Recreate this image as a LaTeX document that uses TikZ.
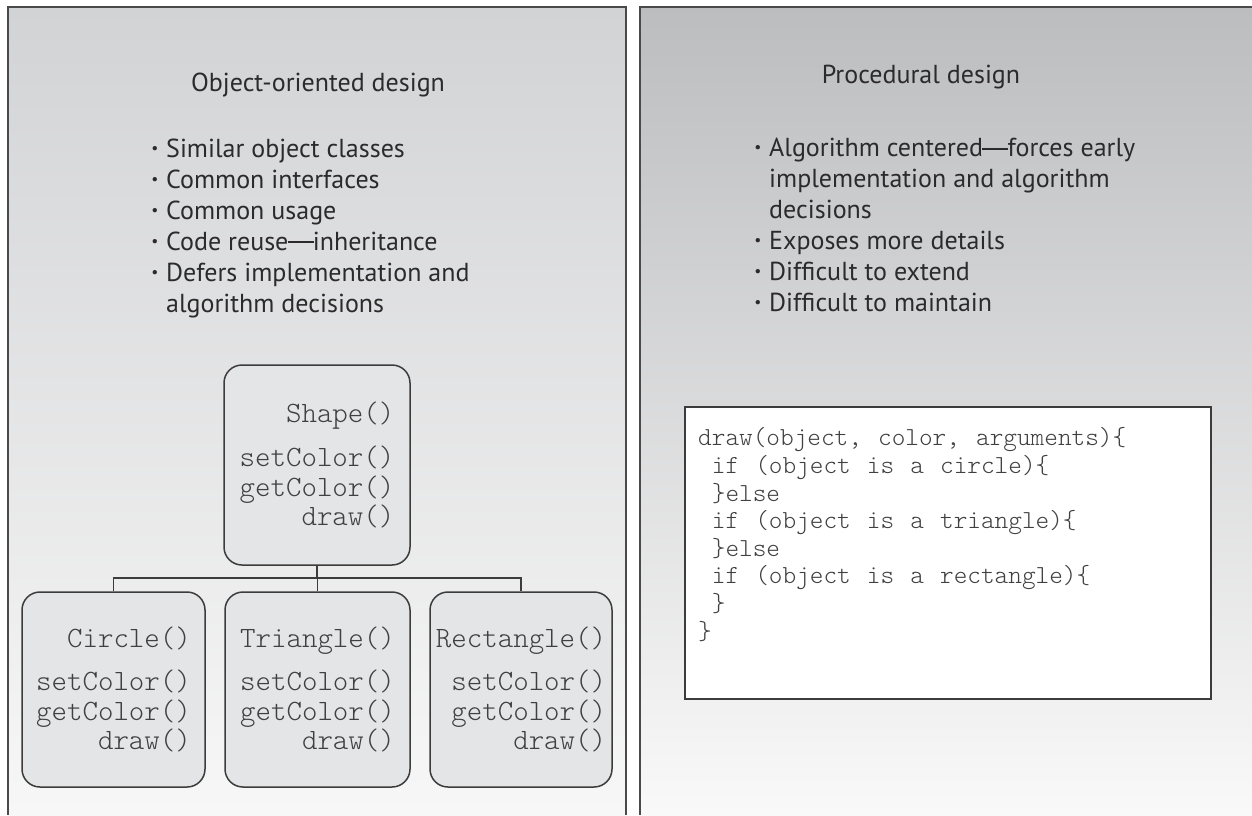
\documentclass[tikz,border=0pt]{standalone}
\usepackage{fontspec}
\setmainfont{PT Sans}

\definecolor{panelline}{HTML}{4A4A4A}
\definecolor{lefttop}{HTML}{D2D3D5}
\definecolor{leftbot}{HTML}{F7F7F7}
\definecolor{righttop}{HTML}{BCBDBF}
\definecolor{rightbot}{HTML}{F9F9F9}
\definecolor{boxline}{HTML}{3C3C3C}
\definecolor{boxfill}{HTML}{E4E5E6}
\definecolor{txtdark}{HTML}{2B2B2B}
\definecolor{codegray}{HTML}{404040}

\newcommand\bul{\llap{\raisebox{0.28ex}{\scalebox{0.6}{\textbullet}}\hspace{0.3em}}}
\newcommand\emd{\kern-0.03em\rule[0.27em]{1em}{0.065em}\kern-0.03em}
\newcommand\ind{\hphantom{x}}
\newcommand\codefont{\fontseries{l}\ttfamily\fontsize{26}{27.6}\selectfont
  \spaceskip=0.62em\relax}

\tikzset{
  panel/.style={draw=panelline, line width=1.8pt},
  heading/.style={font=\fontsize{26}{31}\selectfont, text=txtdark, inner sep=0pt},
  bullets/.style={heading, align=left, anchor=west},
  umlbox/.style={draw=boxline, fill=boxfill, line width=1.5pt, rounded corners=18pt,
    align=right, font=\fontseries{l}\ttfamily\fontsize{29.5}{29.5}\selectfont,
    text=codegray, minimum height=195pt},
  tree/.style={draw=boxline, line width=1.5pt},
  codebox/.style={draw=boxline, fill=white, line width=2pt},
  codetext/.style={align=left, anchor=west, inner sep=0pt, text=codegray,
    font=\codefont}
}

\begin{document}
\begin{tikzpicture}[x=1pt,y=-1pt]
  \useasboundingbox (0,0) rectangle (1252,815);
  % the two panels, open at the bottom
  \path[panel, top color=lefttop, bottom color=leftbot]
    (8,815) -- (8,7) -- (626,7) -- (626,815);
  \path[panel, top color=righttop, bottom color=rightbot]
    (640,815) -- (640,7) -- (1262,7) -- (1262,815);

  % object-oriented side
  \node[heading] (ootitle) at (318,85) {Object-oriented design};
  \node[bullets] (oolist) at (166,228) {%
    \bul Similar object classes\\
    \bul Common interfaces\\
    \bul Common usage\\
    \bul Code reuse\emd inheritance\\
    \bul Defers implementation and\\
    algorithm decisions};

  % class hierarchy
  \node[umlbox, minimum width=186pt, minimum height=200pt] (shape) at (317,465)
    {Shape()\\[15pt]setColor()\\getColor()\\draw()};
  \foreach \nm/\x/\w/\lab in {circ/113.5/183/Circle(), tri/317.5/185/Triangle(),
                              rect/521/182/Rectangle()}{
    \node[umlbox, minimum width=\w pt] (\nm) at (\x,689.5)
      {\lab\\[14pt]setColor()\\getColor()\\draw()};
  }
  \coordinate (junc) at (317,578);
  \foreach \nm in {circ,tri,rect}
    \draw[tree] (shape.south) -- (junc) -| (\nm.north);

  % procedural side
  \node[heading] (prtitle) at (921,77) {Procedural design};
  \node[bullets] (prlist) at (769,225) {%
    \bul Algorithm centered\emd forces early\\
    implementation and algorithm\\
    decisions\\
    \bul Exposes more details\\
    \bul Difficult to extend\\
    \bul Difficult to maintain};

  \node[codebox, minimum width=526pt, minimum height=292pt] (codebox) at (948,553) {};
  \node[codetext] (code) at (698,534.5) {%
    draw(object, color, arguments)\{\\
    \ind if (object is a circle)\{\\
    \ind\}else\\
    \ind if (object is a triangle)\{\\
    \ind\}else\\
    \ind if (object is a rectangle)\{\\
    \ind\}\\
    \}};
\end{tikzpicture}
\end{document}
